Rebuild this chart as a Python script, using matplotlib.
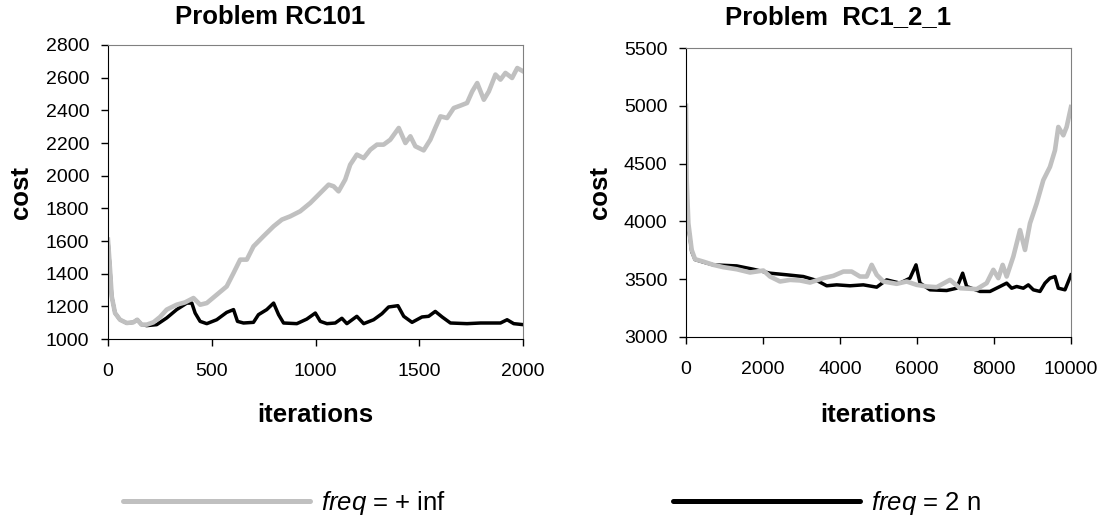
import matplotlib
matplotlib.use("Agg")
import matplotlib.pyplot as plt
from matplotlib.lines import Line2D

plt.rcParams['font.family'] = ['Liberation Sans', 'DejaVu Sans']
plt.rcParams['mathtext.fontset'] = 'custom'
plt.rcParams['mathtext.rm'] = 'Liberation Sans'
plt.rcParams['mathtext.it'] = 'Liberation Sans:italic'

# --- Problem RC101 ---
rc101_inf_it = [0, 10, 18, 34, 58, 90, 122, 141, 162, 187, 219, 251, 283, 331, 371,
                412, 444, 476, 524, 572, 605, 637, 669, 701, 749, 798, 838, 878, 926, 975,
                1023, 1063, 1087, 1111, 1143, 1167, 1199, 1232, 1264, 1296, 1328, 1360, 1401,
                1433, 1457, 1481, 1521, 1553, 1577, 1602, 1634, 1666, 1698, 1730, 1755, 1779,
                1811, 1835, 1867, 1891, 1915, 1947, 1972, 2000]
rc101_inf_cost = [1608, 1424, 1261, 1159, 1118, 1098, 1102, 1118, 1088, 1088, 1102, 1135, 1180,
                  1210, 1224, 1251, 1210, 1220, 1271, 1322, 1404, 1486, 1486, 1567, 1629, 1690,
                  1731, 1751, 1782, 1833, 1894, 1945, 1935, 1904, 1976, 2067, 2129, 2108, 2159,
                  2190, 2190, 2220, 2292, 2200, 2241, 2180, 2155, 2220, 2292, 2363, 2353, 2414,
                  2429, 2445, 2516, 2567, 2465, 2516, 2619, 2588, 2629, 2598, 2659, 2639]

rc101_2n_it = [0, 10, 18, 34, 58, 90, 122, 141, 162, 187, 235, 283, 331, 380, 404, 420, 444,
               476, 524, 572, 605, 624, 653, 701, 725, 765, 798, 822, 846, 910, 958, 999, 1023,
               1055, 1095, 1127, 1151, 1199, 1232, 1280, 1320, 1352, 1397, 1425, 1465, 1513,
               1545, 1577, 1610, 1650, 1730, 1795, 1891, 1923, 1955, 2000]
rc101_2n_cost = [1608, 1424, 1261, 1159, 1118, 1098, 1102, 1118, 1088, 1082, 1088, 1129, 1180,
                 1220, 1220, 1159, 1108, 1094, 1118, 1163, 1180, 1108, 1098, 1102, 1149, 1180,
                 1220, 1149, 1098, 1094, 1122, 1159, 1108, 1094, 1098, 1127, 1094, 1139, 1094,
                 1118, 1155, 1196, 1204, 1139, 1102, 1135, 1139, 1169, 1135, 1098, 1094, 1098,
                 1098, 1118, 1094, 1088]

# --- Problem RC1_2_1 ---
rc121_inf_it = [0, 17, 61, 104, 147, 234, 450, 710, 970, 1316, 1662, 2009, 2182, 2442, 2701,
                2961, 3221, 3567, 3827, 4087, 4303, 4519, 4693, 4823, 4953, 5126, 5472, 5732,
                5991, 6251, 6511, 6857, 7117, 7550, 7810, 7983, 8113, 8225, 8329, 8502, 8676,
                8805, 8935, 9108, 9281, 9454, 9584, 9671, 9801, 9887, 10000]
rc121_inf_cost = [5000, 4357, 3983, 3868, 3753, 3673, 3652, 3624, 3604, 3586, 3558, 3575, 3523,
                  3480, 3494, 3489, 3471, 3509, 3529, 3566, 3566, 3523, 3523, 3624, 3538, 3480,
                  3460, 3480, 3451, 3437, 3431, 3494, 3422, 3414, 3466, 3581, 3509, 3624, 3523,
                  3696, 3925, 3753, 3983, 4155, 4357, 4472, 4615, 4817, 4745, 4817, 4989]

rc121_2n_it = [0, 17, 61, 104, 147, 234, 450, 710, 1316, 1749, 2182, 2615, 3048, 3394, 3654,
               3913, 4260, 4606, 4953, 5212, 5558, 5818, 5974, 6078, 6338, 6771, 7030, 7186,
               7290, 7636, 7896, 8156, 8329, 8459, 8589, 8762, 8892, 9022, 9195, 9325, 9454,
               9584, 9671, 9844, 10000]
rc121_2n_cost = [4400, 4100, 3950, 3850, 3740, 3670, 3648, 3624, 3615, 3586, 3552, 3538, 3523,
                 3489, 3443, 3451, 3443, 3451, 3431, 3494, 3466, 3509, 3624, 3466, 3408, 3402,
                 3422, 3552, 3437, 3394, 3394, 3437, 3466, 3422, 3437, 3422, 3451, 3408, 3394,
                 3466, 3509, 3523, 3422, 3408, 3537]

labels = [r'$\mathit{freq}$ = + inf', r'$\mathit{freq}$ = 2 n']
GRAY = '#C0C0C0'

fig = plt.figure(figsize=(11.04, 5.19), dpi=100)
ax1 = fig.add_axes([0.0978, 0.3468, 0.376, 0.5665])
ax2 = fig.add_axes([0.6214, 0.3507, 0.3487, 0.5568])


def style(ax, title, xlim, ylim, xticks, yticks, title_x, title_y, ylab_x, xlab_y):
    ax.set_xlim(*xlim)
    ax.set_ylim(*ylim)
    ax.set_xticks(xticks)
    ax.set_yticks(yticks)
    ax.tick_params(direction='out', length=5, width=1, labelsize=14, colors='black')
    ax.tick_params(axis='y', pad=8.5)
    ax.tick_params(axis='x', pad=12.5)
    for side in ['top', 'right']:
        ax.spines[side].set_color('#808080')
    for side in ['left', 'bottom']:
        ax.spines[side].set_color('black')
    ax.set_xlabel('iterations', fontsize=18.5, fontweight='bold')
    ax.set_ylabel('cost', fontsize=18.5, fontweight='bold')
    ax.xaxis.set_label_coords(0.5, xlab_y)
    ax.yaxis.set_label_coords(ylab_x, 0.5)
    ax.text(title_x, title_y, title, transform=ax.transAxes, ha='center', va='center',
            fontsize=18.5, fontweight='bold')


ax1.plot(rc101_2n_it, rc101_2n_cost, color='black', lw=2.5, solid_joinstyle='round')
ax1.plot(rc101_inf_it, rc101_inf_cost, color=GRAY, lw=3.3, solid_joinstyle='round')
style(ax1, 'Problem RC101', (0, 2000), (1000, 2800), range(0, 2001, 500),
      range(1000, 2801, 200), 0.39, 1.095, -0.181, -0.218)

ax2.plot(rc121_2n_it, rc121_2n_cost, color='black', lw=2.5, solid_joinstyle='round')
ax2.plot(rc121_inf_it, rc121_inf_cost, color=GRAY, lw=3.3, solid_joinstyle='round')
style(ax2, 'Problem  RC1_2_1', (0, 10000), (3000, 5500), range(0, 10001, 2000),
      range(3000, 5501, 500), 0.395, 1.107, -0.192, -0.228)

h_inf = Line2D([], [], color=GRAY, lw=3.6, solid_capstyle='round')
h_2n = Line2D([], [], color='black', lw=3.6, solid_capstyle='round')
for h, lab, x0 in [(h_inf, labels[0], 0.1114), (h_2n, labels[1], 0.6096)]:
    fig.legend([h], [lab], loc='center left', bbox_to_anchor=(x0, 0.031),
               frameon=False, fontsize=18.5, handlelength=7.28, handletextpad=0.43,
               borderpad=0, borderaxespad=0)

fig.savefig('out.png', dpi=100)
